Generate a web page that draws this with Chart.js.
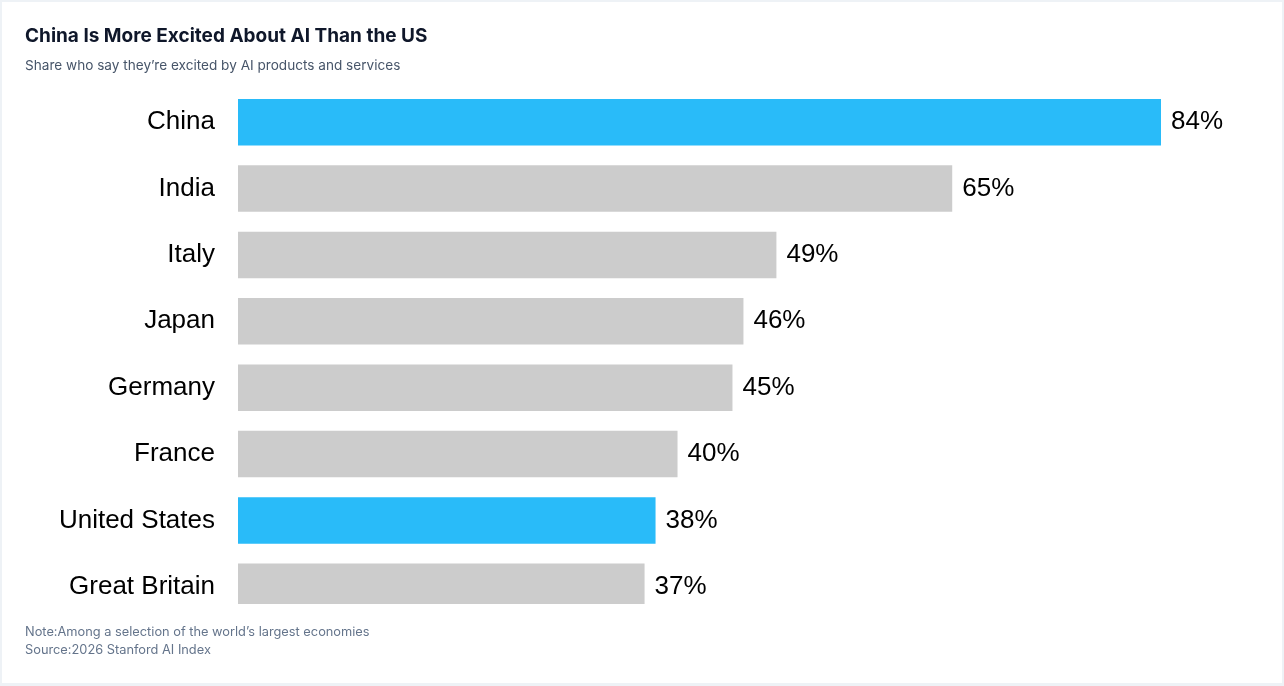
<!DOCTYPE html>
<html>
<head>
<meta charset="utf-8">
<script src="https://cdn.jsdelivr.net/npm/chart.js@4"></script>
<style>
  html, body { margin: 0; padding: 0; }
  body { width: 1284px; height: 686px; background: #eef2f6; position: relative; overflow: hidden; }
  .card { position: absolute; left: 2px; top: 2px; width: 1280px; height: 681px; background: #fff; }
  .title { position: absolute; left: 25px; top: 24px; font: bold 19px Inter, sans-serif; color: #0f172a; line-height: 24px; white-space: nowrap; }
  .subtitle { position: absolute; left: 25px; top: 56px; font: 13.6px Inter, sans-serif; color: #475569; line-height: 18px; white-space: nowrap; }
  .notes { position: absolute; left: 25px; top: 623px; font: 12.8px Inter, sans-serif; color: #64748b; line-height: 18px; white-space: nowrap; }
  #chart { position: absolute; left: 0; top: 0; }
</style>
</head>
<body>
<div class="card"></div>
<canvas id="chart" width="1284" height="686"></canvas>
<div class="title">China Is More Excited About AI Than the US</div>
<div class="subtitle">Share who say they’re excited by AI products and services</div>
<div class="notes">Note:Among a selection of the world’s largest economies<br>Source:2026 Stanford AI Index</div>
<script>
  const countries = ["China", "India", "Italy", "Japan", "Germany", "France", "United States", "Great Britain"];
  const excitedShare = [84, 65, 49, 46, 45, 40, 38, 37];
  const highlighted = ["China", "United States"];

  const blue = "#29bbf9";
  const gray = "#cccccc";

  // Draw "NN%" just past the end of each bar
  const valueLabels = {
    id: "valueLabels",
    afterDatasetsDraw(chart) {
      const ctx = chart.ctx;
      const meta = chart.getDatasetMeta(0);
      ctx.save();
      ctx.font = "26px Arial, 'Liberation Sans', sans-serif";
      ctx.fillStyle = "#000";
      ctx.textAlign = "left";
      ctx.textBaseline = "middle";
      meta.data.forEach((bar, i) => {
        ctx.fillText(excitedShare[i] + "%", bar.x + 10, bar.y);
      });
      ctx.restore();
    },
  };

  new Chart(document.getElementById("chart"), {
    type: "bar",
    data: {
      labels: countries,
      datasets: [
        {
          data: excitedShare,
          backgroundColor: countries.map((c) => (highlighted.includes(c) ? blue : gray)),
          borderWidth: 0,
          categoryPercentage: 0.7,
          barPercentage: 1,
          clip: { left: 0, top: 0, right: 0, bottom: -16 },
        },
      ],
    },
    options: {
      indexAxis: "y",
      responsive: false,
      animation: false,
      layout: { padding: { top: 89, bottom: 66, left: 0, right: 123 } },
      plugins: {
        legend: { display: false },
        tooltip: { enabled: false },
      },
      scales: {
        x: {
          display: false,
          min: 0,
          max: 84,
        },
        y: {
          border: { display: false },
          grid: { display: false, drawTicks: false },
          ticks: {
            color: "#000",
            padding: 23,
            font: { size: 26, family: "Arial, 'Liberation Sans', sans-serif" },
          },
          afterFit(scale) {
            scale.width = 238;
          },
        },
      },
    },
    plugins: [valueLabels],
  });
</script>
</body>
</html>
